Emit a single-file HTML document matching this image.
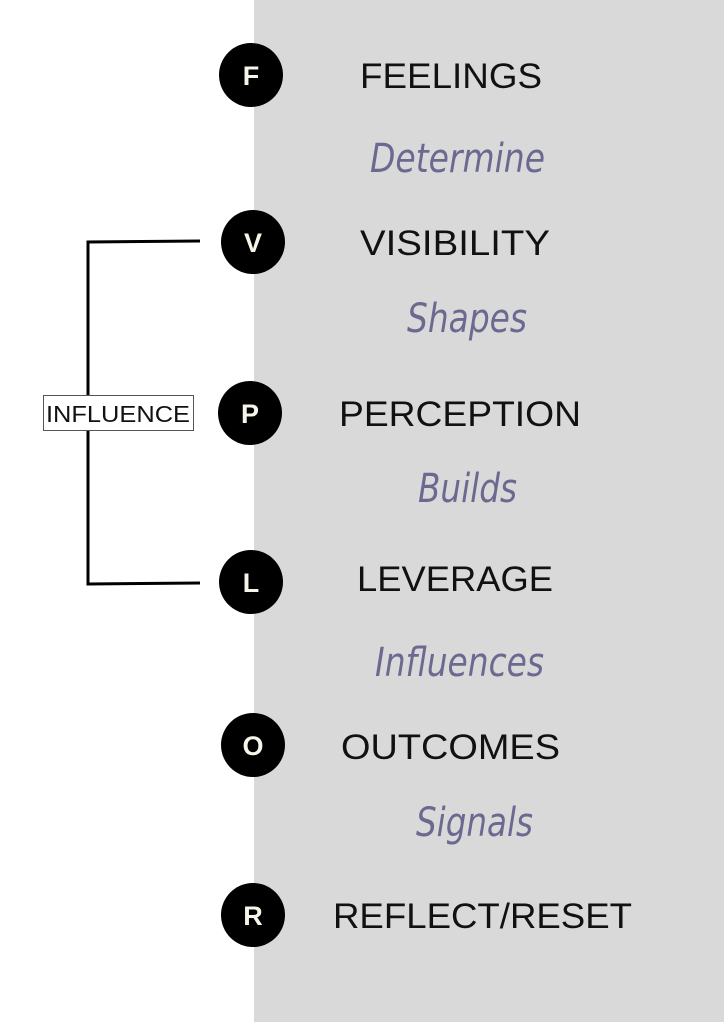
<!DOCTYPE html>
<html><head><meta charset="utf-8"><style>
html,body{margin:0;padding:0;background:#fff;}
svg{display:block;}
.t{font-family:"Liberation Sans",sans-serif;font-size:35px;fill:#111;}
.s{font-family:"DejaVu Sans","Liberation Sans",sans-serif;font-style:italic;font-size:40px;fill:#6b6990;font-weight:300;}
.c{font-family:"Liberation Sans",sans-serif;font-weight:bold;font-size:27px;fill:#f7f5ea;}
</style></head><body>
<svg width="724" height="1024" viewBox="0 0 724 1024" xmlns="http://www.w3.org/2000/svg">
<rect x="0" y="0" width="724" height="1024" fill="#fff"/>
<rect x="254" y="0" width="470" height="1022" fill="#d9d9d9"/>
<path d="M200 241 L88 242 L88 584 L200 583" fill="none" stroke="#000" stroke-width="3"/>
<rect x="43.5" y="395.5" width="150" height="35" fill="#fff" stroke="#555" stroke-width="1"/>
<text x="118" y="422" text-anchor="middle" font-family="Liberation Sans,sans-serif" font-size="23" fill="#111" textLength="144" lengthAdjust="spacingAndGlyphs">INFLUENCE</text>
<g>
<circle cx="251" cy="75" r="32"/><text class="c" x="251" y="85" text-anchor="middle">F</text>
<circle cx="253" cy="242" r="32"/><text class="c" x="253" y="252" text-anchor="middle">V</text>
<circle cx="250" cy="413" r="32"/><text class="c" x="250" y="423" text-anchor="middle">P</text>
<circle cx="251" cy="582" r="32"/><text class="c" x="251" y="592" text-anchor="middle">L</text>
<circle cx="253" cy="745" r="32"/><text class="c" x="253" y="755" text-anchor="middle">O</text>
<circle cx="253" cy="915" r="32"/><text class="c" x="253" y="925" text-anchor="middle">R</text>
</g>
<text class="t" x="360" y="88" textLength="182" lengthAdjust="spacingAndGlyphs">FEELINGS</text>
<text class="s" x="370" y="172" textLength="175" lengthAdjust="spacingAndGlyphs">Determine</text>
<text class="t" x="360" y="255" textLength="190" lengthAdjust="spacingAndGlyphs">VISIBILITY</text>
<text class="s" x="407" y="332" textLength="120" lengthAdjust="spacingAndGlyphs">Shapes</text>
<text class="t" x="339" y="426" textLength="242" lengthAdjust="spacingAndGlyphs">PERCEPTION</text>
<text class="s" x="418" y="502" textLength="99" lengthAdjust="spacingAndGlyphs">Builds</text>
<text class="t" x="357" y="591" textLength="196" lengthAdjust="spacingAndGlyphs">LEVERAGE</text>
<text class="s" x="375" y="676" textLength="169" lengthAdjust="spacingAndGlyphs">Influences</text>
<text class="t" x="341" y="759" textLength="219" lengthAdjust="spacingAndGlyphs">OUTCOMES</text>
<text class="s" x="416" y="836" textLength="117" lengthAdjust="spacingAndGlyphs">Signals</text>
<text class="t" x="333" y="928" textLength="299" lengthAdjust="spacingAndGlyphs">REFLECT/RESET</text>
</svg>
</body></html>
